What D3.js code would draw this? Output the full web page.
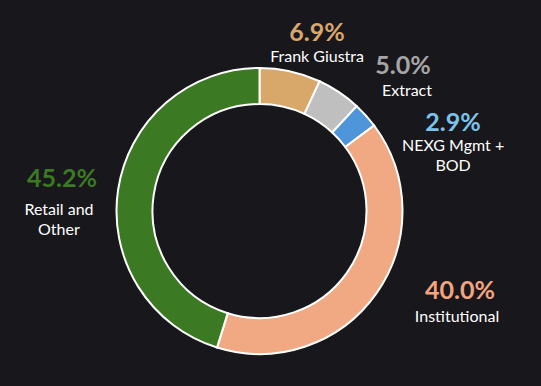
<!DOCTYPE html>
<html lang="en">
<head>
    <meta charset="utf-8">
    <title>Ownership</title>
    <script type="text/javascript" src="https://d3js.org/d3.v7.min.js"></script>
    <style>
        html, body {
            margin: 0;
            padding: 0;
            background: #18171c;
        }
        text {
            font-family: Lato, "Open Sans", sans-serif;
        }
        .pct {
            font-weight: bold;
            font-size: 25px;
        }
        .name {
            font-size: 16px;
            fill: #ffffff;
        }
    </style>
</head>
<body>
    <div id="chart"></div>
    <script type="text/javascript">
        // data
        const categories = ["Frank Giustra", "Extract", "NEXG Mgmt + BOD", "Institutional", "Retail and Other"];
        const shares = [6.9, 5.0, 2.9, 40.0, 45.2];
        const nameLines = [["Frank Giustra"], ["Extract"], ["NEXG Mgmt +", "BOD"], ["Institutional"], ["Retail and", "Other"]];

        const sliceColors = ["#d8a76a", "#bfbfbf", "#4e95d9", "#f1a983", "#3b7a23"];
        const labelColors = ["#d9a66b", "#a6a6a6", "#7cc3ec", "#f3a57f", "#3b7a23"];

        const width = 541;
        const height = 386;
        const cx = 259.5, cy = 211;
        const outerR = 143, innerR = 107;

        // label anchor (baseline of the percentage): [angle clockwise from 12 o'clock, distance],
        // then vertical gap and horizontal shift of the name
        const labelAnchor = [[18.7, 179.5], [46.33, 198.4], [67.5, 209.5], [113.7, 219], [276.9, 199]];
        const nameGap = [21, 22, 20, 23, 28];
        const nameShift = [0, 4, 0, -3, -3];

        const svg = d3.select("#chart")
            .append("svg")
            .attr("width", width)
            .attr("height", height);

        const pie = d3.pie().sort(null).value(d => d);
        const arc = d3.arc().innerRadius(innerR).outerRadius(outerR);

        const g = svg.append("g")
            .attr("transform", `translate(${cx}, ${cy})`);

        g.selectAll("path")
            .data(pie(shares))
            .enter()
            .append("path")
                .attr("d", arc)
                .attr("fill", (d, i) => sliceColors[i])
                .attr("stroke", "#ffffff")
                .attr("stroke-width", 2);

        const labels = g.selectAll("g.label")
            .data(categories)
            .enter()
            .append("g")
                .attr("class", "label")
                .attr("transform", (d, i) => {
                    const a = labelAnchor[i][0] * Math.PI / 180;
                    const r = labelAnchor[i][1];
                    return `translate(${r * Math.sin(a)}, ${-r * Math.cos(a)})`;
                });

        labels.append("text")
            .attr("class", "pct")
            .attr("text-anchor", "middle")
            .attr("y", 0)
            .attr("fill", (d, i) => labelColors[i])
            .text((d, i) => shares[i].toFixed(1) + "%");

        labels.each(function(d, i) {
            const t = d3.select(this).append("text")
                .attr("class", "name")
                .attr("text-anchor", "middle");
            nameLines[i].forEach((line, j) => {
                t.append("tspan")
                    .attr("x", nameShift[i])
                    .attr("y", nameGap[i] + j * 20)
                    .text(line);
            });
        });
    </script>
</body>
</html>
